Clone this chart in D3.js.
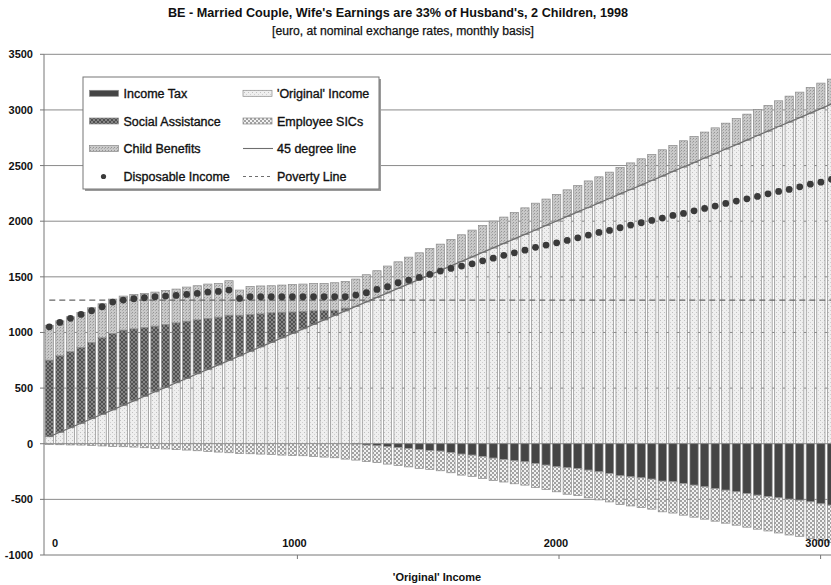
<!DOCTYPE html>
<html><head><meta charset="utf-8">
<script src="https://cdn.jsdelivr.net/npm/d3@7"></script>
<style>
html,body{margin:0;padding:0;background:#fff;}
svg{display:block;font-family:"Liberation Sans",Arial,sans-serif;}
</style></head>
<body>
<svg id="chart" width="831" height="585"></svg>
<script>
// ---------- data (euro / month) ----------
const original = [63,103,144,184,225,265,305,346,386,427,467,507,548,588,629,669,709,750,790,831,
  871,911,952,992,1033,1073,1113,1154,1194,1235,1275,1315,1356,1396,1437,1477,1517,1558,1598,1639,
  1679,1719,1760,1800,1841,1881,1921,1962,2002,2043,2083,2123,2164,2204,2245,2285,2325,2366,2406,2447,
  2487,2527,2568,2608,2649,2689,2729,2770,2810,2851,2891,2931,2972,3012,3053];
const socialAssistance = [689,688,683,682,686,688,687,676,647,619,590,566,539,514,485,458,429,406,366,331,
  297,266,231,193,157,122,84,46,25,0,0,0,0,0,0,0,0,0,0,0,
  0,0,0,0,0,0,0,0,0,0,0,0,0,0,0,0,0,0,0,0,
  0,0,0,0,0,0,0,0,0,0,0,0,0,0,0];
const childBenefits = [313,314,314,314,311,305,308,305,309,305,306,305,303,306,306,308,303,309,225,252,
  250,243,243,247,245,246,244,247,240,245,244,240,241,239,240,239,238,236,238,239,
  241,242,241,237,238,239,241,237,239,239,238,239,235,237,238,239,236,234,236,234,
  236,235,233,231,232,234,233,235,230,231,233,229,230,229,224];
const incomeTax = [0,0,0,0,0,0,0,0,0,0,0,0,0,0,0,0,0,0,0,0,
  0,0,0,0,0,0,0,0,0,3,12,18,27,33,42,51,60,66,78,93,
  102,114,129,141,153,162,177,192,207,216,222,237,252,267,288,297,306,318,336,342,
  357,372,387,402,417,432,447,462,474,486,498,507,522,540,552];
const employeeSICs = [6,9,11,12,15,20,24,27,30,36,42,47,53,57,63,69,75,81,87,90,
  93,96,102,105,108,114,120,126,138,144,148,152,156,162,166,170,170,177,183,189,
  191,198,201,203,207,210,216,219,225,238,244,249,253,256,258,262,267,270,276,281,
  285,288,291,294,297,300,303,306,310,316,322,325,330,332,335];
const disposableIncome = [1051,1090,1127,1162,1195,1231,1273,1291,1303,1312,1321,1327,1333,1342,1351,1363,1369,1381,1306,1321,
  1321,1321,1321,1321,1321,1321,1321,1321,1321,1336,1357,1387,1411,1447,1471,1495,1522,1552,1576,1597,
  1617,1644,1668,1693,1716,1740,1765,1785,1806,1827,1851,1875,1899,1917,1941,1965,1986,2007,2028,2052,
  2070,2093,2115,2136,2160,2181,2201,2223,2246,2268,2286,2309,2333,2351,2376];
const povertyLine = 1290;
const yTickValues = [-1000,-500,0,500,1000,1500,2000,2500,3000,3500];
const xTickLabels = [0,1000,2000,3000];

const title = "BE - Married Couple, Wife's Earnings are 33% of Husband's, 2 Children, 1998";
const subtitle = "[euro, at nominal exchange rates, monthly basis]";
const xTitle = "'Original' Income";

// ---------- layout ----------
const svg = d3.select("#chart");
const W = 831, H = 585;
const plot = {left: 44, top: 54.3, bottom: 555, right: 836.75};

const idx = d3.range(original.length);
const x = d3.scaleBand().domain(idx).range([plot.left, plot.right]).paddingInner(0.22).paddingOuter(0.11);
const y = d3.scaleLinear().domain([-1000, 3500]).range([plot.bottom, plot.top]);
const xc = i => x(i) + x.bandwidth() / 2;
// income -> x, for the value labels along the bottom
const xInc = d3.scaleLinear().domain([original[0], original[original.length - 1]])
  .range([xc(0), xc(original.length - 1)]);

// ---------- patterns ----------
const defs = svg.append("defs");
function pat(id, size, bg, draw) {
  const p = defs.append("pattern").attr("id", id).attr("patternUnits", "userSpaceOnUse")
    .attr("width", size).attr("height", size);
  p.append("rect").attr("width", size).attr("height", size).attr("fill", bg);
  draw(p);
}
pat("pOrig", 4, "#efefef", p => {
  p.append("rect").attr("x", 0).attr("y", 0).attr("width", 1).attr("height", 1).attr("fill", "#c0c0c0");
  p.append("rect").attr("x", 2).attr("y", 2).attr("width", 1).attr("height", 1).attr("fill", "#d0d0d0");
});
pat("pSA", 4, "#858585", p => {
  p.append("path").attr("d", "M0,4L4,0M0,0L4,4").attr("stroke", "#505050").attr("stroke-width", 1);
});
pat("pCB", 3, "#c9c9c9", p => {
  p.append("rect").attr("x", 0).attr("y", 0).attr("width", 1).attr("height", 1).attr("fill", "#959595");
  p.append("rect").attr("x", 2).attr("y", 1).attr("width", 1).attr("height", 1).attr("fill", "#aaaaaa");
});
pat("pSIC", 4, "#f2f2f2", p => {
  p.append("rect").attr("x", 0).attr("y", 0).attr("width", 2).attr("height", 2).attr("fill", "#a2a2a2");
  p.append("rect").attr("x", 2).attr("y", 2).attr("width", 2).attr("height", 2).attr("fill", "#a2a2a2");
});

const series = [
  {key: "orig", label: "'Original' Income", fill: "url(#pOrig)"},
  {key: "sa", label: "Social Assistance", fill: "url(#pSA)"},
  {key: "cb", label: "Child Benefits", fill: "url(#pCB)"},
  {key: "tax", label: "Income Tax", fill: "#454545"},
  {key: "sic", label: "Employee SICs", fill: "url(#pSIC)"}
];
const rows = idx.map(i => ({i, orig: original[i], sa: socialAssistance[i], cb: childBenefits[i],
  tax: -incomeTax[i], sic: -employeeSICs[i]}));
const stacked = d3.stack().keys(series.map(s => s.key)).offset(d3.stackOffsetDiverging)(rows);

// ---------- titles ----------
svg.append("text").attr("x", 398).attr("y", 17).attr("text-anchor", "middle")
  .attr("font-size", 12.5).attr("font-weight", "bold").attr("fill", "#111")
  .attr("textLength", 460).attr("lengthAdjust", "spacingAndGlyphs").text(title);
svg.append("text").attr("x", 403).attr("y", 35).attr("text-anchor", "middle")
  .attr("font-size", 12).attr("fill", "#111").attr("stroke", "#111").attr("stroke-width", 0.25)
  .attr("textLength", 262).attr("lengthAdjust", "spacingAndGlyphs").text(subtitle);

// ---------- grid ----------
svg.append("g").selectAll("line").data(yTickValues.filter(v => v > -1000)).join("line")
  .attr("x1", plot.left).attr("x2", W).attr("y1", d => y(d)).attr("y2", d => y(d))
  .attr("stroke", "#8a8a8a").attr("stroke-width", 1);

// ---------- bars ----------
const fillOf = Object.fromEntries(series.map(s => [s.key, s.fill]));
const gBars = svg.append("g");
stacked.forEach(layer => {
  gBars.append("g").selectAll("rect").data(layer.filter(d => d[1] !== d[0])).join("rect")
    .attr("x", d => x(d.data.i)).attr("width", x.bandwidth())
    .attr("y", d => y(Math.max(d[0], d[1])))
    .attr("height", d => Math.abs(y(d[0]) - y(d[1])))
    .attr("fill", fillOf[layer.key]).attr("stroke", "#8a8a8a").attr("stroke-width", 0.7);
});

// ---------- axes ----------
const yAxis = svg.append("g");
yAxis.append("line").attr("x1", plot.left).attr("x2", plot.left).attr("y1", plot.top).attr("y2", plot.bottom)
  .attr("stroke", "#777").attr("stroke-width", 1);
yAxis.selectAll("line.t").data(yTickValues).join("line").attr("class", "t")
  .attr("x1", plot.left - 4).attr("x2", plot.left).attr("y1", d => y(d)).attr("y2", d => y(d))
  .attr("stroke", "#777");
yAxis.selectAll("text").data(yTickValues).join("text")
  .attr("x", 33).attr("y", d => y(d) + 4).attr("text-anchor", "end")
  .attr("font-size", 11).attr("font-weight", "bold").attr("fill", "#111").text(d => d);

const xAxis = svg.append("g");
xAxis.append("line").attr("x1", plot.left).attr("x2", W).attr("y1", plot.bottom).attr("y2", plot.bottom)
  .attr("stroke", "#777").attr("stroke-width", 1);
xAxis.selectAll("line.t").data(xTickLabels.filter(v => v > 0)).join("line").attr("class", "t")
  .attr("x1", d => xInc(d) + 3).attr("x2", d => xInc(d) + 3)
  .attr("y1", plot.bottom).attr("y2", plot.bottom + 4).attr("stroke", "#777");
xAxis.selectAll("text").data(xTickLabels).join("text")
  .attr("x", d => Math.max(xInc(d), plot.left + 11)).attr("y", 547).attr("text-anchor", "middle")
  .attr("font-size", 11).attr("font-weight", "bold").attr("fill", "#111").text(d => d);
svg.append("text").attr("x", 437).attr("y", 581).attr("text-anchor", "middle")
  .attr("font-size", 11).attr("font-weight", "bold").attr("fill", "#111").text(xTitle);

// ---------- lines & points ----------
const line = d3.line().x((d, i) => xc(i)).y(d => y(d));
svg.append("path").datum(original).attr("d", line).attr("fill", "none")
  .attr("stroke", "#6e6e6e").attr("stroke-width", 1.3);
svg.append("path").datum(idx.map(() => povertyLine)).attr("d", line).attr("fill", "none")
  .attr("stroke", "#666").attr("stroke-width", 1.2).attr("stroke-dasharray", "6,4");
svg.append("g").selectAll("circle").data(disposableIncome).join("circle")
  .attr("cx", (d, i) => xc(i)).attr("cy", d => y(d)).attr("r", 3.4).attr("fill", "#3a3a3a");

// ---------- legend ----------
const lg = svg.append("g");
lg.append("rect").attr("x", 85).attr("y", 79).attr("width", 296).attr("height", 112).attr("fill", "#9a9a9a");
lg.append("rect").attr("x", 83).attr("y", 77).attr("width", 296).attr("height", 112)
  .attr("fill", "#fff").attr("stroke", "#777").attr("stroke-width", 1);
const rowsY = [93.3, 121, 148.5, 176.5];
const legItems = [
  {col: 0, row: 0, type: "bar", key: "tax", label: "Income Tax"},
  {col: 0, row: 1, type: "bar", key: "sa", label: "Social Assistance"},
  {col: 0, row: 2, type: "bar", key: "cb", label: "Child Benefits"},
  {col: 0, row: 3, type: "dot", label: "Disposable Income"},
  {col: 1, row: 0, type: "bar", key: "orig", label: "'Original' Income"},
  {col: 1, row: 1, type: "bar", key: "sic", label: "Employee SICs"},
  {col: 1, row: 2, type: "line", label: "45 degree line"},
  {col: 1, row: 3, type: "dash", label: "Poverty Line"}
];
const colX = [89.5, 243];
legItems.forEach(it => {
  const x0 = colX[it.col], yy = rowsY[it.row];
  if (it.type === "bar") {
    lg.append("rect").attr("x", x0).attr("y", yy - 3).attr("width", 29).attr("height", 6)
      .attr("fill", fillOf[it.key]).attr("stroke", "#8a8a8a").attr("stroke-width", 0.7);
  } else if (it.type === "dot") {
    lg.append("circle").attr("cx", x0 + 14).attr("cy", yy).attr("r", 2.6).attr("fill", "#3a3a3a");
  } else {
    lg.append("line").attr("x1", x0).attr("x2", x0 + 30).attr("y1", yy).attr("y2", yy)
      .attr("stroke", "#6e6e6e").attr("stroke-width", 1.1)
      .attr("stroke-dasharray", it.type === "dash" ? "3,3" : null);
  }
  lg.append("text").attr("x", x0 + 34).attr("y", yy + 4.5).attr("font-size", 12.5)
    .attr("fill", "#111").attr("stroke", "#111").attr("stroke-width", 0.35).text(it.label);
});
</script>
</body></html>
